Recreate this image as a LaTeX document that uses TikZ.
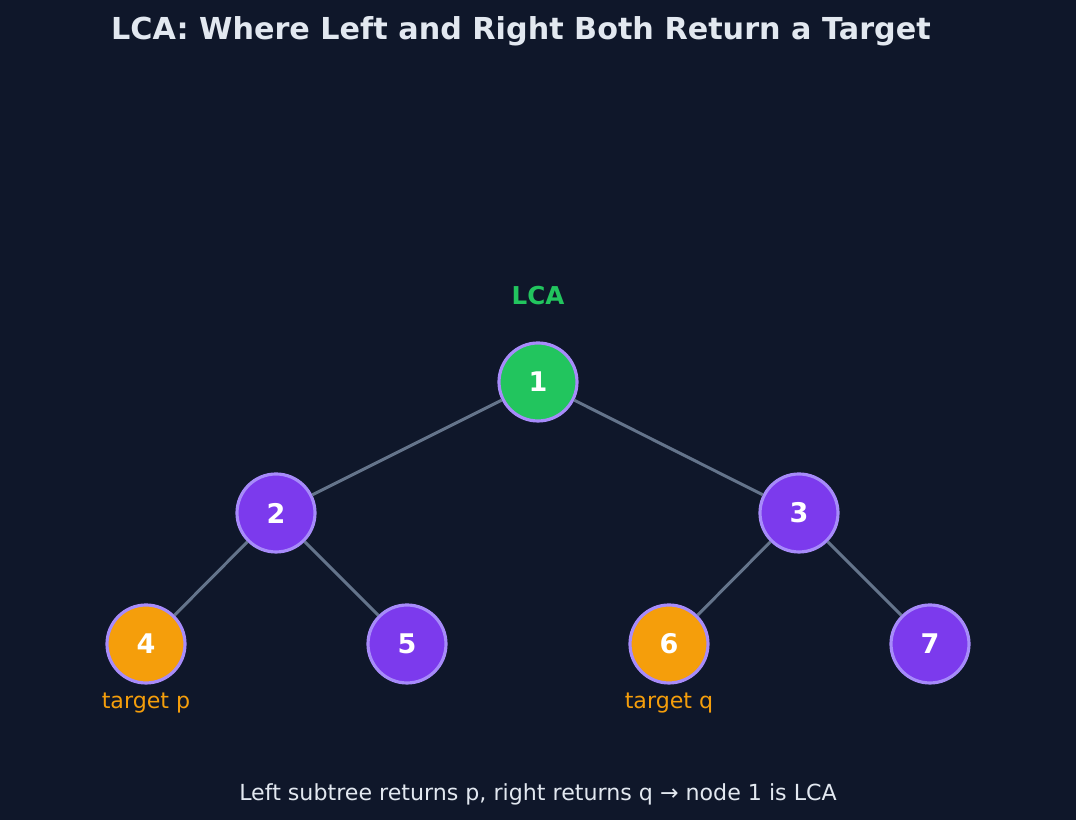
\documentclass[tikz,border=0pt]{standalone}
\usepackage{fontspec}
\setmainfont{DejaVu Sans}
\usepackage{xcolor}
\usetikzlibrary{positioning}
\definecolor{bgdark}{HTML}{0F172A}
\definecolor{vnode}{HTML}{7C3AED}
\definecolor{vring}{HTML}{A78BFA}
\definecolor{lcagreen}{HTML}{22C55E}
\definecolor{tgtorange}{HTML}{F59E0B}
\definecolor{edgegray}{HTML}{64748B}
\definecolor{txtlight}{HTML}{E2E8F0}

\begin{document}
\begin{tikzpicture}[
  tnode/.style={circle, draw=vring, line width=0.9pt, fill=vnode, minimum size=0.78cm, inner sep=0pt, text=white, font=\fontsize{7.7}{9}\selectfont\bfseries},
  lcanode/.style={tnode, fill=lcagreen},
  tgtnode/.style={tnode, fill=tgtorange},
  edge/.style={draw=edgegray, line width=0.85pt},
  tgtlabel/.style={text=tgtorange, font=\fontsize{6.3}{8}\selectfont}
]
  % background
  \fill[bgdark] (0,0) rectangle (10.76,8.2);
  \useasboundingbox (0,0) rectangle (10.76,8.2);

  % title
  \node[text=txtlight, font=\fontsize{8.6}{10}\selectfont\bfseries] (title) at (5.21,7.89) {LCA: Where Left and Right Both Return a Target};

  % tree
  \node[lcanode] (n1) at (5.38,4.38) {1};
  \node[tnode] (n2) at (2.76,3.07) {2};
  \node[tnode] (n3) at (7.99,3.07) {3};
  \node[tgtnode] (n4) at (1.46,1.76) {4};
  \node[tnode] (n5) at (4.07,1.76) {5};
  \node[tgtnode] (n6) at (6.69,1.76) {6};
  \node[tnode] (n7) at (9.30,1.76) {7};

  \draw[edge] (n1) -- (n2);
  \draw[edge] (n1) -- (n3);
  \draw[edge] (n2) -- (n4);
  \draw[edge] (n2) -- (n5);
  \draw[edge] (n3) -- (n6);
  \draw[edge] (n3) -- (n7);

  % labels
  \node[text=lcagreen, font=\fontsize{7}{8}\selectfont\bfseries] (lcalbl) at (5.38,5.24) {LCA};
  \node[tgtlabel] (plbl) at (1.46,1.17) {target p};
  \node[tgtlabel] (qlbl) at (6.69,1.17) {target q};

  % caption
  \node[text=txtlight, font=\fontsize{6.3}{8}\selectfont] (caption) at (5.38,0.26) {Left subtree returns p, right returns q → node 1 is LCA};
\end{tikzpicture}
\end{document}
